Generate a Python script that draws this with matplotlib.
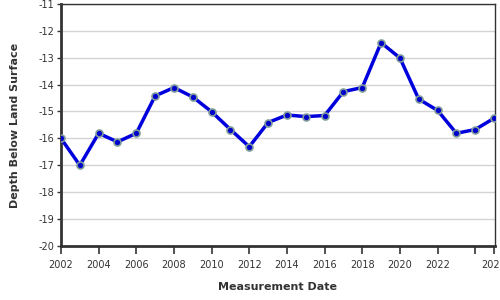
import matplotlib
matplotlib.use('Agg')
import matplotlib.pyplot as plt

years = list(range(2002, 2026))
depth = [-16.0, -17.0, -15.81, -16.13, -15.81, -14.42, -14.11, -14.46, -15.01, -15.67,
         -16.31, -15.41, -15.13, -15.19, -15.15, -14.26, -14.11, -12.44, -13.01, -14.54,
         -14.96, -15.81, -15.67, -15.25]
xticks = [2002, 2004, 2006, 2008, 2010, 2012, 2014, 2016, 2018, 2020, 2022, 2024, 2025]
xlabels = ['2002', '2004', '2006', '2008', '2010', '2012', '2014', '2016', '2018', '2020', '2022', '', '2025']
yticks = list(range(-20, -10))

plt.rcParams['font.family'] = 'DejaVu Sans'
fig = plt.figure(figsize=(5, 3), dpi=100)
ax = fig.add_axes([0.122, 0.18, 0.868, 0.807])

ax.plot(years, depth, color='#0000dd', lw=2.5, zorder=3,
        marker='o', ms=5, mfc='#0000cc', mec='#7f9a9a', mew=1.2)

ax.set_xlim(2002, 2025.05)
ax.set_ylim(-20, -11)
ax.set_xticks(xticks)
ax.set_xticklabels(xlabels)
ax.set_yticks(yticks)
ax.set_yticklabels([str(v) for v in yticks])
ax.yaxis.grid(True, color='#d4d4d4', lw=1)
ax.set_axisbelow(True)

ax.tick_params(axis='x', labelsize=7, colors='#333333', length=6, width=1.2, pad=4)
ax.tick_params(axis='y', labelsize=7, colors='#333333', length=3, width=1, pad=2)

for side in ['left', 'bottom']:
    ax.spines[side].set_linewidth(2)
    ax.spines[side].set_color('#333333')
for side in ['top', 'right']:
    ax.spines[side].set_linewidth(1)
    ax.spines[side].set_color('#333333')

ax.set_xlabel('Measurement Date', fontsize=8, fontweight='bold', color='#333333', labelpad=9)
ax.set_ylabel('Depth Below Land Surface', fontsize=8, fontweight='bold', color='#333333', labelpad=13)

fig.savefig('out.png', dpi=100)
